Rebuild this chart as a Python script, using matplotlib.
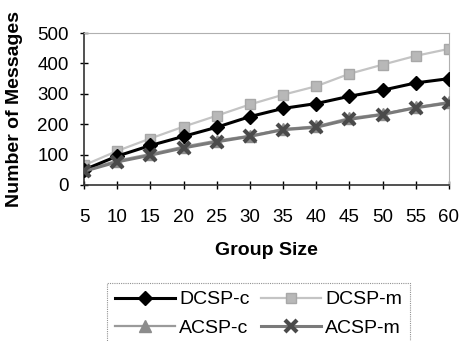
import numpy as np
import matplotlib
matplotlib.use('Agg')
import matplotlib.pyplot as plt

plt.rcParams['font.family'] = ['Liberation Sans', 'DejaVu Sans']

group_size = [5, 10, 15, 20, 25, 30, 35, 40, 45, 50, 55, 60]
dcsp_c = [50, 95, 130, 160, 190, 225, 252, 268, 292, 312, 336, 350]
dcsp_m = [65, 112, 153, 192, 228, 265, 297, 325, 366, 396, 425, 448]
acsp_c = [48, 80, 102, 126, 146, 162, 184, 193, 220, 234, 256, 273]
acsp_m = [45, 76, 98, 122, 142, 160, 182, 190, 216, 232, 254, 270]

fig = plt.figure(figsize=(4.59, 3.41), dpi=100)
ax = fig.add_axes([0.183, 0.4575, 0.795, 0.4455])

ax.plot(group_size, dcsp_m, color='#c4c4c4', lw=1.6, marker='s', ms=7,
        mfc='#b8b8b8', mec='#a8a8a8', label='DCSP-m', zorder=2)
ax.plot(group_size, acsp_c, color='#9a9a9a', lw=1.6, marker='^', ms=8,
        mfc='#8c8c8c', mec='#8c8c8c', label='ACSP-c', zorder=3)
ax.plot(group_size, dcsp_c, color='black', lw=2.2, marker='D', ms=7,
        mfc='black', mec='black', label='DCSP-c', zorder=4)
ax.plot(group_size, acsp_m, color='#7a7a7a', lw=2.2, marker='x', ms=9,
        mew=3, mec='#4a4a4a', label='ACSP-m', zorder=5)

ax.set_xlim(5, 60)
ax.set_ylim(0, 500)
ax.set_xticks(group_size)
ax.set_yticks(np.arange(0, 501, 100))
ax.tick_params(direction='inout', length=6, width=1, labelsize=13.5)
ax.tick_params(axis='x', pad=14)
ax.tick_params(axis='y', pad=8)

for s in ['top', 'right']:
    ax.spines[s].set_color('#b0b0b0')
    ax.spines[s].set_linestyle((0, (1, 1)))
for s in ['left', 'bottom']:
    ax.spines[s].set_color('#333333')
    ax.spines[s].set_linewidth(1.2)

ax.set_xlabel('Group Size', fontsize=14, fontweight='bold', labelpad=12)
ax.set_ylabel('Number of Messages', fontsize=14, fontweight='bold', labelpad=10)

# legend laid out column-wise: DCSP-c, ACSP-c | DCSP-m, ACSP-m
h, l = ax.get_legend_handles_labels()
order = [l.index('DCSP-c'), l.index('ACSP-c'), l.index('DCSP-m'), l.index('ACSP-m')]
leg = fig.legend([h[i] for i in order], [l[i] for i in order], ncol=2,
                 loc='upper left', bbox_to_anchor=(0.233, 0.17),
                 fontsize=14, frameon=True, fancybox=False,
                 handlelength=3.1, handletextpad=0.2, columnspacing=0.6,
                 labelspacing=0.55, borderpad=0.4, borderaxespad=0)
leg.get_frame().set_edgecolor('#777777')
leg.get_frame().set_linestyle((0, (1, 1)))
leg.get_frame().set_linewidth(0.8)

plt.savefig('out.png', dpi=100)
